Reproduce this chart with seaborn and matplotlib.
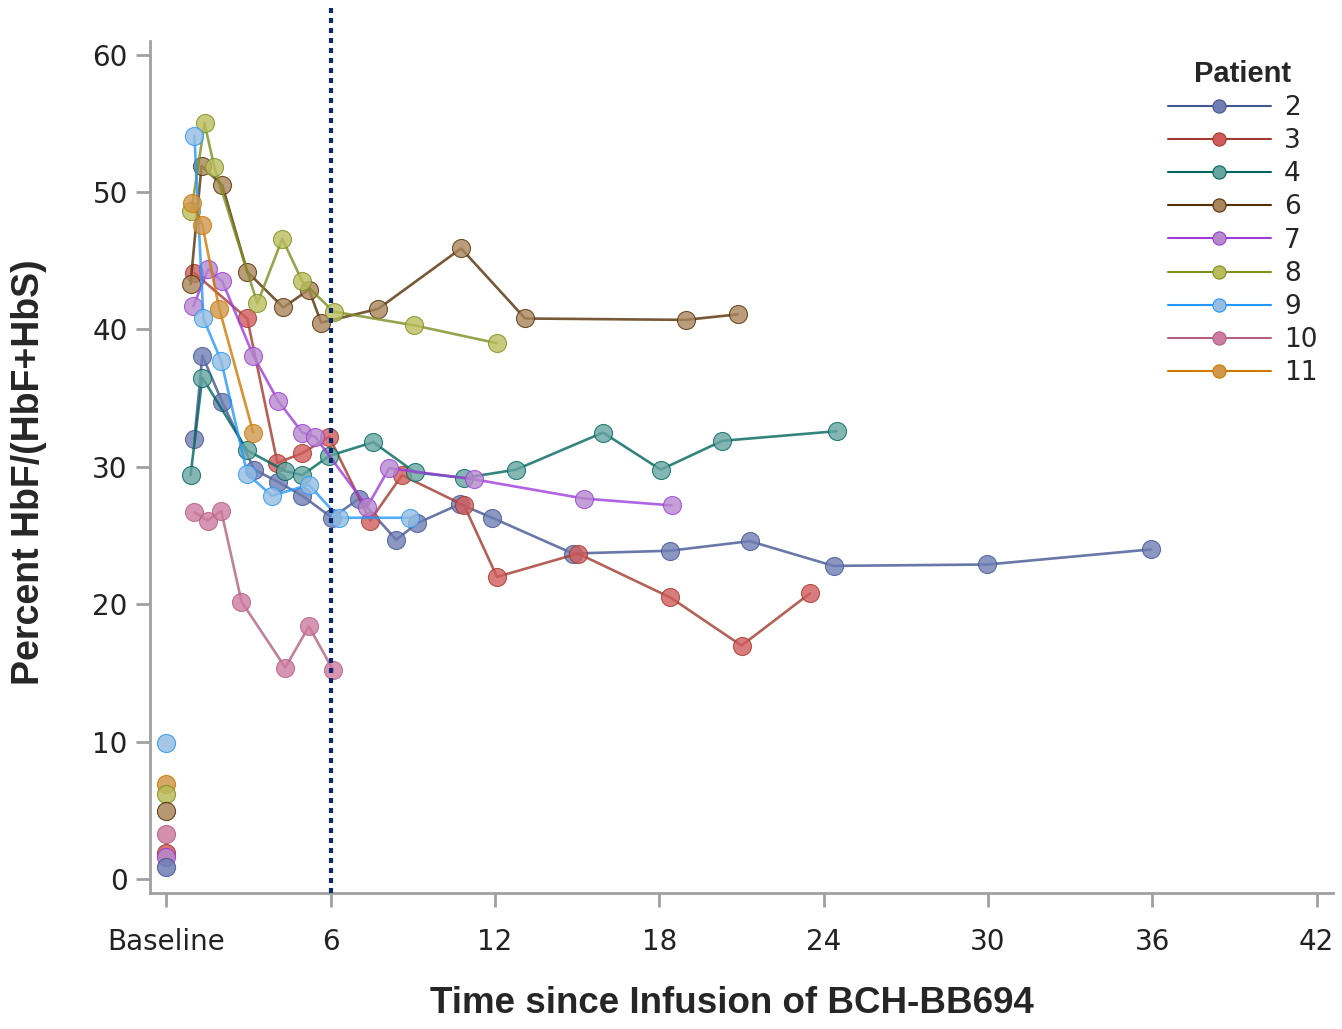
import numpy as np
import pandas as pd
import matplotlib
matplotlib.use("Agg")
import matplotlib.pyplot as plt
from matplotlib.lines import Line2D
import seaborn as sns

# Patient ids and colours (line colour, marker fill)
patients = [2, 3, 4, 6, 7, 8, 9, 10, 11]
line_colors = ["#445694", "#A23A2E", "#01665E", "#543005", "#9D3CDB",
               "#7F8E1F", "#2597FA", "#B26084", "#D17800"]
fill_colors = ["#6F7EB3", "#D05B5B", "#66A5A0", "#A9865B", "#B689CD",
               "#BABC5C", "#94BDE1", "#CD7BA1", "#CF974B"]

# Baseline values (plotted at x=0, not connected)
baseline_ids = [9, 11, 8, 6, 10, 3, 7, 2]
baseline_vals = [9.9, 6.9, 6.2, 5.0, 3.3, 1.9, 1.6, 0.9]

# Post-infusion follow-up (months, percent HbF/(HbF+HbS))
months = {
    2: [1.02, 1.31, 2.04, 3.21, 4.08, 4.96, 6.05, 7.04, 8.39, 9.15, 10.72,
        11.89, 14.84, 18.38, 21.3, 24.36, 29.98, 35.96],
    3: [1.02, 2.95, 4.05, 4.96, 5.94, 7.44, 8.6, 10.87, 12.07, 15.03, 18.4,
        21.0, 23.5],
    4: [0.88, 1.31, 2.95, 4.34, 4.96, 5.94, 7.55, 9.08, 10.87, 12.76, 15.94,
        18.05, 20.3, 24.47],
    6: [0.88, 1.28, 2.04, 2.95, 4.27, 5.2, 5.65, 7.73, 10.76, 13.1, 18.96,
        20.86],
    7: [0.98, 1.53, 2.04, 3.17, 4.08, 4.96, 5.43, 7.33, 8.13, 11.23, 15.24,
        18.45],
    8: [0.91, 1.39, 1.75, 3.32, 4.23, 4.96, 6.1, 9.05, 12.07],
    9: [1.02, 1.35, 2.0, 2.95, 3.85, 5.2, 6.3, 8.9],
    10: [1.02, 1.5, 2.0, 2.74, 4.34, 5.2, 6.09],
    11: [0.95, 1.31, 1.93, 3.17],
}
hbf = {
    2: [32.0, 38.1, 34.7, 29.8, 28.9, 27.9, 26.3, 27.7, 24.7, 25.9, 27.3,
        26.3, 23.7, 23.9, 24.6, 22.8, 22.9, 24.0],
    3: [44.1, 40.8, 30.3, 31.0, 32.2, 26.1, 29.4, 27.2, 22.0, 23.7, 20.5,
        17.0, 20.8],
    4: [29.4, 36.5, 31.2, 29.7, 29.4, 30.8, 31.8, 29.6, 29.2, 29.8, 32.5,
        29.8, 31.9, 32.6],
    6: [43.3, 51.9, 50.5, 44.2, 41.6, 42.9, 40.5, 41.5, 45.9, 40.8, 40.7,
        41.1],
    7: [41.7, 44.4, 43.5, 38.1, 34.8, 32.5, 32.2, 27.1, 29.9, 29.1, 27.7,
        27.2],
    8: [48.6, 55.0, 51.8, 41.9, 46.6, 43.5, 41.3, 40.3, 39.0],
    9: [54.1, 40.8, 37.7, 29.5, 27.9, 28.7, 26.3, 26.3],
    10: [26.7, 26.1, 26.8, 20.2, 15.4, 18.4, 15.2],
    11: [49.2, 47.6, 41.5, 32.5],
}

xticks = [0, 6, 12, 18, 24, 30, 36, 42]
xticklabels = ["Baseline", "6", "12", "18", "24", "30", "36", "42"]
yticks = [0, 10, 20, 30, 40, 50, 60]

sns.set_style("white")
plt.rcParams["font.family"] = ["DejaVu Sans"]

fig = plt.figure(figsize=(13.42, 10.29), dpi=100)
ax = fig.add_axes([0.1118, 0.1322, 0.8815, 0.8628])

for pid, lc, fc in zip(patients, line_colors, fill_colors):
    df = pd.DataFrame({"month": months[pid], "hbf": hbf[pid]})
    sns.lineplot(data=df, x="month", y="hbf", ax=ax, sort=False,
                 color=lc, linewidth=1.9, alpha=0.8, marker="o",
                 markersize=13, markerfacecolor=fc, markeredgecolor=lc,
                 markeredgewidth=0.8)

for pid, val in zip(baseline_ids, baseline_vals):
    i = patients.index(pid)
    sns.scatterplot(x=[0], y=[val], ax=ax, s=170, color=fill_colors[i],
                    edgecolor=line_colors[i], linewidth=0.8, alpha=0.85,
                    zorder=3)

ax.axvline(6, color="#0A2A6B", linewidth=3, linestyle=(0, (1.2, 1.2)),
           zorder=4, clip_on=False)

ax.set_xlim(-0.6, 42.6)
ax.set_ylim(-1, 63.6)
ax.set_xticks(xticks)
ax.set_xticklabels(xticklabels)
ax.set_yticks(yticks)

for side in ["top", "right"]:
    ax.spines[side].set_visible(False)
for side in ["left", "bottom"]:
    ax.spines[side].set_color("#A0A0A0")
    ax.spines[side].set_linewidth(2)
ax.spines["left"].set_bounds(-1, 61)

ax.tick_params(axis="both", direction="out", length=10, width=2,
               color="#A0A0A0", labelsize=20, labelcolor="#222222",
               bottom=True, left=True)
ax.tick_params(axis="x", pad=15)
ax.tick_params(axis="y", pad=6)

ax.set_xlabel("Time since Infusion of BCH-BB694", fontsize=26.5,
              fontweight="bold", family="Liberation Sans")
ax.set_ylabel("Percent HbF/(HbF+HbS)", fontsize=27, fontweight="bold",
              family="Liberation Sans")
ax.xaxis.set_label_coords(0.492, -0.105)
ax.yaxis.set_label_coords(-0.087, 0.474)

handles = [Line2D([0], [0], color=lc, linewidth=1.5, marker="o",
                  markersize=9.5, markerfacecolor=fc, markeredgecolor=lc,
                  markeredgewidth=0.8)
           for lc, fc in zip(line_colors, fill_colors)]
leg = ax.legend(handles, [str(p) for p in patients], title="Patient",
                loc="upper left", bbox_to_anchor=(1168 / 1342, 1 - 60 / 1029),
                bbox_transform=fig.transFigure, frameon=False,
                fontsize=19, handlelength=3.9, handletextpad=0.5,
                labelspacing=0.27, borderpad=0, borderaxespad=0)
leg.get_title().set_fontsize(21)
leg.get_title().set_fontweight("bold")
leg.get_title().set_family("Liberation Sans")

fig.savefig("out.png", dpi=100)
